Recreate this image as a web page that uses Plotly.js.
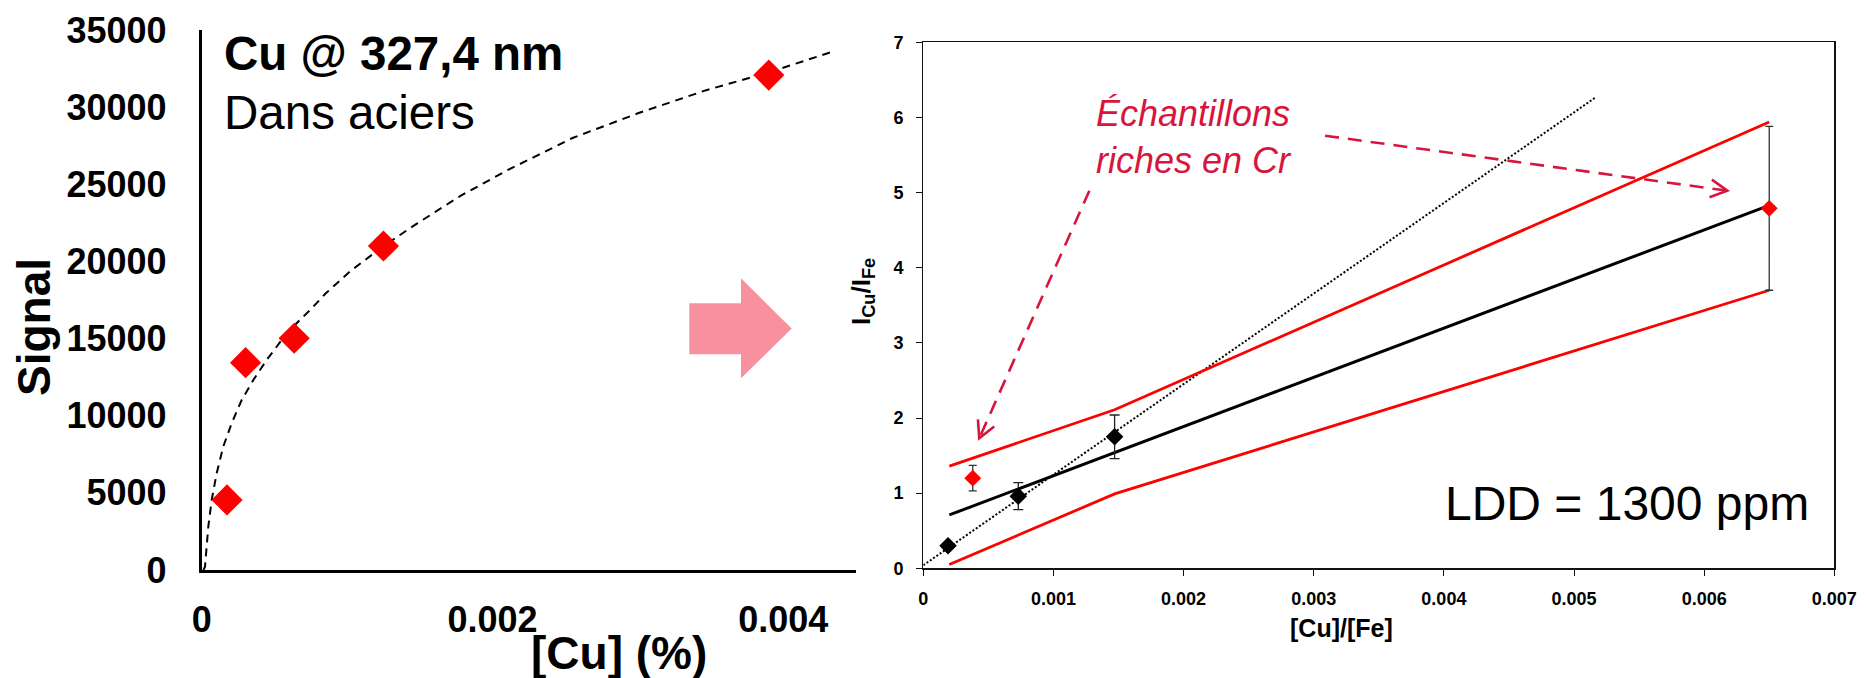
<!DOCTYPE html>
<html><head><meta charset="utf-8">
<script src="https://cdn.plot.ly/plotly-3.0.1.min.js"></script>
<style>html,body{margin:0;padding:0;background:#fff;} #chart{width:1866px;height:678px;}</style>
</head><body><div id="chart"></div>
<script>
// ---------- Left panel data: Cu @ 327,4 nm in steels ----------
const cuPct = [0.000174, 0.000302, 0.000636, 0.00125, 0.0039];
const signal = [4540, 13440, 15020, 21000, 32080];
const fitCuPct = [0.000012, 0.0000227, 0.0000454, 0.0000687, 0.000103, 0.000148, 0.000206, 0.000275, 0.000355, 0.000447, 0.00055, 0.000641, 0.000756, 0.00085, 0.00102, 0.00125, 0.00148, 0.00178, 0.0021, 0.00255, 0.003, 0.00347, 0.0039, 0.00434];
const fitSignal = [0, 210, 2810, 4540, 6270, 7990, 9510, 11020, 12310, 13610, 14910, 15880, 16950, 17900, 19350, 21000, 22450, 24250, 25900, 28000, 29600, 31100, 32250, 33600];
const leftXTicks = [0, 0.002, 0.004];
const leftXLabels = ['0', '0.002', '0.004'];
const leftYTicks = [0, 5000, 10000, 15000, 20000, 25000, 30000, 35000];
const leftYLabels = ['0', '5000', '10000', '15000', '20000', '25000', '30000', '35000'];

// ---------- Right panel data: I_Cu/I_Fe vs [Cu]/[Fe] ----------
const refRatio = [0.00019, 0.00073, 0.00147];
const refIntensity = [0.30, 0.96, 1.75];
const refErr = [0.04, 0.18, 0.29];
const crRatio = [0.00038, 0.0065];
const crIntensity = [1.20, 4.79];
const crErr = [0.17, 1.09];
const regRatio = [0.0002, 0.0065];
const regIntensity = [0.71, 4.83];
const upperRatio = [0.0002, 0.00147, 0.0065];
const upperIntensity = [1.36, 2.11, 5.94];
const lowerRatio = [0.0002, 0.00147, 0.0065];
const lowerIntensity = [0.05, 0.99, 3.70];
const idealRatio = [0, 0.00516];
const idealIntensity = [0.04, 6.26];
const rightXTicks = [0, 0.001, 0.002, 0.003, 0.004, 0.005, 0.006, 0.007];
const rightXLabels = ['0', '0.001', '0.002', '0.003', '0.004', '0.005', '0.006', '0.007'];
const rightYTicks = [0, 1, 2, 3, 4, 5, 6, 7];
const rightYLabels = ['0', '1', '2', '3', '4', '5', '6', '7'];
// annotation arrows (start -> tip) in right-panel data units
const arrowStarts = [[0.001276, 5.025], [0.003087, 5.757]];
const arrowTips = [[0.00043, 1.73], [0.006178, 5.025]];

// ---------- styling / layout ----------
const W = 1866, H = 678;
const FONT = '"Liberation Sans", Arial, sans-serif';
const CRIMSON = '#D6163C';
const px = v => v / W, py = v => 1 - v / H;
const L = {x0: 201.7, x1: 856, y0: 570, y1: 30};
const R = {x0: 923.3, x1: 1834.3, y0: 568.3, y1: 42.3};

const traces = [
  {x: fitCuPct, y: fitSignal, xaxis: 'x', yaxis: 'y', mode: 'lines', line: {color: '#000', width: 2, dash: '8px,6px'}, hoverinfo: 'skip'},
  {x: cuPct, y: signal, xaxis: 'x', yaxis: 'y', mode: 'markers', marker: {symbol: 'diamond', size: 24, color: '#FF0000'}},
  {x: idealRatio, y: idealIntensity, xaxis: 'x2', yaxis: 'y2', mode: 'lines', line: {color: '#000', width: 2, dash: '2px,2px'}},
  {x: upperRatio, y: upperIntensity, xaxis: 'x2', yaxis: 'y2', mode: 'lines', line: {color: '#FF0000', width: 2.8}},
  {x: lowerRatio, y: lowerIntensity, xaxis: 'x2', yaxis: 'y2', mode: 'lines', line: {color: '#FF0000', width: 2.8}},
  {x: regRatio, y: regIntensity, xaxis: 'x2', yaxis: 'y2', mode: 'lines', line: {color: '#000', width: 3}},
  {x: refRatio, y: refIntensity, xaxis: 'x2', yaxis: 'y2', mode: 'markers', marker: {symbol: 'diamond', size: 13.5, color: '#000'},
   error_y: {type: 'data', array: refErr, visible: true, color: '#222', thickness: 1.3, width: 5}},
  {x: crRatio, y: crIntensity, xaxis: 'x2', yaxis: 'y2', mode: 'markers', marker: {symbol: 'diamond', size: 13, color: '#FF0000'},
   error_y: {type: 'data', array: crErr, visible: true, color: '#333', thickness: 1.3, width: 4}}
];

const sx = (R.x1 - R.x0) / 0.007, sy = (R.y0 - R.y1) / 7;
const shapes = [];
// pink block arrow between the panels
const blockPts = [[689.3, 303.3], [741, 303.3], [741, 278.3], [791.7, 328.6], [741, 378.3], [741, 354.3], [689.3, 354.3]];
shapes.push({type: 'path', xref: 'paper', yref: 'paper', layer: 'above',
  path: 'M' + blockPts.map(p => px(p[0]).toFixed(5) + ',' + py(p[1]).toFixed(5)).join('L') + 'Z',
  fillcolor: '#F8919F', line: {width: 0}});
arrowStarts.forEach((s, i) => {
  const t = arrowTips[i];
  shapes.push({type: 'line', xref: 'x2', yref: 'y2', x0: s[0], y0: s[1], x1: t[0], y1: t[1],
    line: {color: CRIMSON, width: 2.6, dash: '14px,9px'}});
  const dx = (t[0] - s[0]) * sx, dy = (t[1] - s[1]) * sy;
  const len = Math.hypot(dx, dy);
  const bx = -dx / len, by = -dy / len;
  const arm = 19, ang = 28 * Math.PI / 180;
  const rot = a => [arm * (bx * Math.cos(a) - by * Math.sin(a)), arm * (bx * Math.sin(a) + by * Math.cos(a))];
  const a1 = rot(ang), a2 = rot(-ang);
  shapes.push({type: 'path', xref: 'x2', yref: 'y2', xsizemode: 'pixel', ysizemode: 'pixel', xanchor: t[0], yanchor: t[1],
    path: `M${a1[0].toFixed(2)},${a1[1].toFixed(2)}L0,0L${a2[0].toFixed(2)},${a2[1].toFixed(2)}`,
    line: {color: CRIMSON, width: 2.6}});
});

const ann = (text, x, y, size, extra) => Object.assign({text, x: px(x), y: py(y), xref: 'paper', yref: 'paper',
  showarrow: false, xanchor: 'center', yanchor: 'middle', font: {size, family: FONT, color: '#000'}}, extra || {});

const annotations = [
  ann('<b>Cu @ 327,4 nm</b>', 222, 53, 47.5, {xanchor: 'left'}),
  ann('Dans aciers', 222, 112, 47.5, {xanchor: 'left'}),
  ann('<b>Signal</b>', 34, 327, 46, {textangle: -90}),
  ann('<b>[Cu] (%)</b>', 619, 653, 46),
  ann('<b>I<sub>Cu</sub>/I<sub>Fe</sub></b>', 862, 292, 26, {textangle: -90}),
  ann('<b>[Cu]/[Fe]</b>', 1341, 628, 25),
  ann('<i>Échantillons<br>riches en Cr</i>', 1094, 137, 36, {xanchor: 'left', align: 'left', font: {size: 36, family: FONT, color: CRIMSON}}),
  ann('LDD = 1300 ppm', 1443, 503, 48, {xanchor: 'left'})
];

const layout = {
  width: W, height: H, margin: {l: 0, r: 0, t: 0, b: 0, pad: 0},
  paper_bgcolor: '#fff', plot_bgcolor: 'rgba(0,0,0,0)', showlegend: false,
  font: {family: FONT, color: '#000'},
  xaxis: {domain: [px(L.x0), px(L.x1)], range: [0, 0.0045], anchor: 'y', showgrid: false, zeroline: false,
    showline: true, linewidth: 3, linecolor: '#000', ticks: '', tickvals: leftXTicks, ticktext: leftXLabels,
    tickfont: {size: 36, weight: 'bold', family: FONT}, ticklabelstandoff: 16},
  yaxis: {domain: [py(L.y0), py(L.y1)], range: [0, 35000], anchor: 'x', showgrid: false, zeroline: false,
    showline: true, linewidth: 3, linecolor: '#000', ticks: '', tickvals: leftYTicks, ticktext: leftYLabels,
    tickfont: {size: 36, weight: 'bold', family: FONT}, ticklabelstandoff: 25},
  xaxis2: {domain: [px(R.x0), px(R.x1)], range: [0, 0.007], anchor: 'y2', showgrid: false, zeroline: false,
    showline: true, mirror: true, linewidth: 1.2, linecolor: '#111', ticks: 'outside', ticklen: 6, tickwidth: 1, tickcolor: '#111',
    tickvals: rightXTicks, ticktext: rightXLabels, tickfont: {size: 18, weight: 'bold', family: FONT}, ticklabelstandoff: 8},
  yaxis2: {domain: [py(R.y0), py(R.y1)], range: [0, 7], anchor: 'x2', showgrid: false, zeroline: false,
    showline: true, mirror: true, linewidth: 1.2, linecolor: '#111', ticks: 'outside', ticklen: 6, tickwidth: 1, tickcolor: '#111',
    tickvals: rightYTicks, ticktext: rightYLabels, tickfont: {size: 18, weight: 'bold', family: FONT}, ticklabelstandoff: 9},
  shapes, annotations
};

Plotly.newPlot('chart', traces, layout, {displayModeBar: false, staticPlot: true});
</script>
</body></html>
